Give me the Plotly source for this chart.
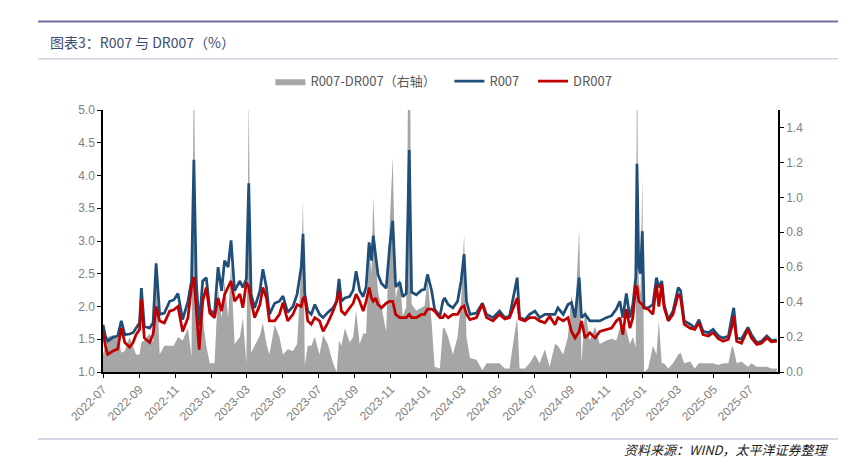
import plotly.graph_objects as go

dates = [
    "2022-07-01", "2022-07-05", "2022-07-09", "2022-07-18", "2022-07-26", "2022-08-01", "2022-08-07",
    "2022-08-15", "2022-08-21", "2022-08-26", "2022-09-01", "2022-09-04", "2022-09-09", "2022-09-18",
    "2022-09-24", "2022-09-29", "2022-10-05", "2022-10-13", "2022-10-22", "2022-10-29", "2022-11-05",
    "2022-11-13", "2022-11-22", "2022-11-28", "2022-12-02", "2022-12-06", "2022-12-11", "2022-12-17",
    "2022-12-23", "2022-12-29", "2023-01-06", "2023-01-12", "2023-01-18", "2023-01-23", "2023-01-29",
    "2023-02-03", "2023-02-09", "2023-02-18", "2023-02-23", "2023-03-01", "2023-03-05", "2023-03-09",
    "2023-03-15", "2023-03-24", "2023-03-29", "2023-04-04", "2023-04-09", "2023-04-18", "2023-04-26",
    "2023-05-02", "2023-05-10", "2023-05-19", "2023-05-26", "2023-06-02", "2023-06-05", "2023-06-08",
    "2023-06-13", "2023-06-19", "2023-06-25", "2023-07-03", "2023-07-09", "2023-07-17", "2023-07-26",
    "2023-08-01", "2023-08-05", "2023-08-09", "2023-08-15", "2023-08-23", "2023-08-29", "2023-09-03",
    "2023-09-09", "2023-09-15", "2023-09-20", "2023-09-25", "2023-09-29", "2023-10-02", "2023-10-06",
    "2023-10-10", "2023-10-16", "2023-10-24", "2023-10-30", "2023-11-04", "2023-11-09", "2023-11-16",
    "2023-11-21", "2023-11-27", "2023-12-02", "2023-12-06", "2023-12-14", "2023-12-23", "2023-12-28",
    "2024-01-02", "2024-01-09", "2024-01-14", "2024-01-23", "2024-01-28", "2024-01-31", "2024-02-06",
    "2024-02-14", "2024-02-22", "2024-02-28", "2024-03-04", "2024-03-08", "2024-03-14", "2024-03-25",
    "2024-04-04", "2024-04-11", "2024-04-22", "2024-05-03", "2024-05-12", "2024-05-20", "2024-05-29",
    "2024-06-02", "2024-06-06", "2024-06-15", "2024-06-23", "2024-07-02", "2024-07-10", "2024-07-19",
    "2024-07-27", "2024-08-05", "2024-08-10", "2024-08-19", "2024-08-27", "2024-09-02", "2024-09-08",
    "2024-09-15", "2024-09-19", "2024-09-25", "2024-10-03", "2024-10-12", "2024-10-20", "2024-10-31",
    "2024-11-09", "2024-11-17", "2024-11-23", "2024-11-28", "2024-12-04", "2024-12-10", "2024-12-15",
    "2024-12-20", "2024-12-22", "2024-12-25", "2024-12-28", "2024-12-31", "2025-01-03", "2025-01-10",
    "2025-01-18", "2025-01-24", "2025-01-28", "2025-02-02", "2025-02-06", "2025-02-13", "2025-02-21",
    "2025-03-02", "2025-03-06", "2025-03-12", "2025-03-22", "2025-03-30", "2025-04-06", "2025-04-13",
    "2025-04-22", "2025-04-30", "2025-05-09", "2025-05-17", "2025-05-26", "2025-06-01", "2025-06-04",
    "2025-06-09", "2025-06-17", "2025-06-28", "2025-07-04", "2025-07-13", "2025-07-21", "2025-07-30",
    "2025-08-07", "2025-08-16",
]

r007 = [
    1.72, 1.55, 1.47, 1.53, 1.55, 1.78, 1.57,
    1.58, 1.60, 1.67, 1.75, 2.28, 1.70, 1.67,
    1.75, 2.66, 1.88, 1.90, 2.08, 2.10, 2.20,
    1.80, 2.08, 2.39, 4.24, 2.39, 1.70, 2.39,
    2.44, 1.95, 1.88, 2.60, 2.24, 2.70, 2.60,
    3.01, 2.24, 2.39, 2.29, 2.42, 3.88, 2.19,
    1.98, 2.24, 2.57, 2.29, 1.88, 2.05, 2.08,
    2.16, 1.91, 2.00, 2.19, 2.60, 3.11, 2.19,
    1.93, 1.88, 2.03, 1.88, 1.83, 1.91, 1.98,
    2.08, 2.42, 2.08, 2.13, 2.15, 2.25, 2.54,
    2.24, 2.15, 2.30, 2.98, 2.70, 3.08, 2.80,
    2.49, 2.35, 2.28, 2.93, 3.31, 2.30, 2.37,
    2.15, 2.20, 4.39, 2.22, 2.18, 2.25, 2.26,
    2.49, 2.24, 1.96, 1.85, 2.08, 2.13, 2.03,
    1.98, 2.08, 2.39, 2.80, 2.08, 1.88, 1.90,
    2.05, 1.88, 1.83, 1.93, 1.83, 1.85, 2.26,
    2.44, 1.83, 1.80, 1.88, 1.93, 1.83, 1.88,
    1.88, 1.88, 1.98, 1.88, 2.03, 2.06, 1.83,
    2.44, 1.83, 1.88, 1.78, 1.78, 1.78, 1.83,
    1.86, 1.96, 2.08, 1.83, 2.20, 1.83, 2.03,
    2.45, 4.18, 2.60, 2.50, 3.15, 1.98, 1.98,
    2.03, 2.44, 2.29, 2.39, 2.03, 1.80, 1.93,
    2.29, 2.24, 1.78, 1.73, 1.67, 1.80, 1.62,
    1.60, 1.65, 1.55, 1.52, 1.55, 1.85, 1.98,
    1.52, 1.50, 1.68, 1.57, 1.45, 1.47, 1.55,
    1.48, 1.49,
]

dr007 = [
    1.62, 1.40, 1.27, 1.32, 1.35, 1.67, 1.45,
    1.38, 1.45, 1.57, 1.65, 2.11, 1.52, 1.45,
    1.58, 2.00, 1.78, 1.75, 1.93, 1.95, 2.00,
    1.62, 1.83, 2.30, 2.45, 1.98, 1.34, 2.08,
    2.29, 1.90, 1.83, 2.13, 1.93, 2.18, 2.29,
    2.39, 2.08, 2.19, 1.98, 2.37, 2.30, 2.08,
    1.83, 2.03, 2.29, 2.13, 1.78, 1.78, 1.88,
    2.06, 1.78, 1.88, 2.03, 2.00, 2.12, 2.15,
    1.78, 1.73, 1.83, 1.78, 1.62, 1.75, 1.93,
    2.08, 2.24, 1.93, 1.88, 1.98, 2.05, 2.19,
    2.08, 1.93, 2.08, 2.29, 2.13, 2.08, 2.13,
    2.03, 1.98, 2.05, 2.08, 2.08, 1.88, 1.83,
    1.83, 1.83, 1.88, 1.83, 1.83, 1.88, 1.88,
    1.96, 1.96, 1.93, 1.83, 1.83, 1.88, 1.83,
    1.88, 1.88, 1.98, 2.01, 1.88, 1.80, 1.83,
    2.04, 1.83, 1.78, 1.88, 1.81, 1.83, 2.03,
    2.13, 1.81, 1.78, 1.83, 1.83, 1.78, 1.75,
    1.85, 1.72, 1.83, 1.78, 1.83, 1.62, 1.52,
    1.62, 1.78, 1.52, 1.60, 1.52, 1.62, 1.65,
    1.67, 1.78, 1.83, 1.57, 1.96, 1.67, 1.83,
    2.31, 2.30, 2.08, 2.05, 2.03, 1.98, 1.96,
    1.88, 2.34, 2.00, 2.34, 1.98, 1.78, 1.88,
    2.19, 2.13, 1.73, 1.67, 1.65, 1.75, 1.57,
    1.55, 1.60, 1.51, 1.47, 1.50, 1.70, 1.85,
    1.47, 1.44, 1.65, 1.52, 1.42, 1.44, 1.52,
    1.46, 1.47,
]

spread = [round(a - b, 3) for a, b in zip(r007, dr007)]

series_names = ["R007-DR007（右轴）", "R007", "DR007"]

BLUE = "#1F4E79"
RED = "#C00000"
GRAY = "#A6A6A6"
TICK_FONT = dict(family="Liberation Sans, Arial", size=12, color="#7F7F7F")
NBSP = "\u00a0"

fig = go.Figure()
fig.add_trace(go.Scatter(
    x=dates, y=spread, name=series_names[0] + NBSP * 3, yaxis="y",
    mode="lines", line=dict(width=0, color=GRAY), fill="tozeroy", fillcolor=GRAY,
))
fig.add_trace(go.Scatter(
    x=dates, y=r007, name=series_names[1] + NBSP * 3, yaxis="y2", mode="lines",
    line=dict(color=BLUE, width=2.75),
))
fig.add_trace(go.Scatter(
    x=dates, y=dr007, name=series_names[2], yaxis="y2", mode="lines",
    line=dict(color=RED, width=2.75),
))

axis_common = dict(showline=True, linecolor="#000000", linewidth=1.5, ticks="outside",
                   ticklen=4, tickcolor="#000000", tickwidth=1, showgrid=False,
                   zeroline=False, tickfont=TICK_FONT)

fig.update_layout(
    width=841, height=462,
    margin=dict(l=95, r=71, t=102, b=98),
    paper_bgcolor="white", plot_bgcolor="white",
    showlegend=True,
    legend=dict(orientation="h", x=0.248, y=1.11, xanchor="left", yanchor="middle",
                font=dict(family="Noto Sans CJK SC", size=13, color="#595959"),
                bgcolor="rgba(0,0,0,0)", traceorder="normal"),
    xaxis=dict(type="date", range=["2022-07-01", "2025-08-18"], dtick="M2",
               tick0="2022-07-01", tickformat="%Y-%m", tickangle=-45, **axis_common),
    yaxis=dict(side="right", range=[0, 1.5], dtick=0.2, tickformat=".1f", **axis_common),
    yaxis2=dict(side="left", overlaying="y", range=[1.0, 5.0], dtick=0.5, tickformat=".1f",
                **axis_common),
)

fig.add_shape(type="line", xref="paper", yref="paper", x0=-0.0963, x1=1.0889, y0=1.338, y1=1.338,
              line=dict(color="#6E719E", width=2))
fig.add_shape(type="line", xref="paper", yref="paper", x0=-0.0963, x1=1.0889, y0=1.195, y1=1.195,
              line=dict(color="#B9BBD5", width=1))
fig.add_shape(type="line", xref="paper", yref="paper", x0=-0.0963, x1=1.0889, y0=-0.2557, y1=-0.2557,
              line=dict(color="#A9ACCB", width=1))

fig.add_annotation(xref="paper", yref="paper", x=-0.0815, y=1.2595, xanchor="left", yanchor="middle",
                   text="图表3：R007 与 DR007（%）", showarrow=False,
                   font=dict(family="Noto Sans CJK SC", size=14, color="#3D4B73"))
fig.add_annotation(xref="paper", yref="paper", x=1.078, y=-0.295, xanchor="right", yanchor="middle",
                   text="<i>资料来源：WIND，太平洋证券整理</i>", showarrow=False,
                   font=dict(family="Noto Sans CJK SC", size=13, color="#222222"))

fig.write_html("out.html")
